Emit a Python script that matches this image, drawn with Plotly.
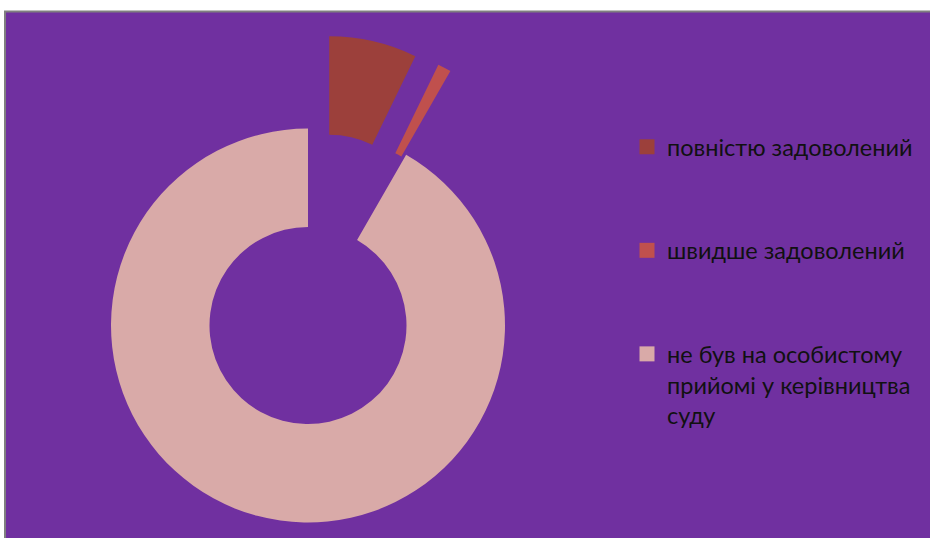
import math
import plotly.graph_objects as go

# ---- data ----
labels = ["повністю задоволений", "швидше задоволений",
          "не був на особистому прийомі у керівництва суду"]
legend_names = ["повністю задоволений", "швидше задоволений",
                "не був на особистому<br>прийомі у керівництва<br>суду"]
values = [7.2, 1.1, 91.7]
colors = ["#9C403B", "#C0504D", "#D9AAA8"]
explode = [0.48, 0.48, 0.0]

# ---- geometry / style (figure pixel coordinates) ----
W, H = 930, 538
cx, cy, r = 308, 325.5, 197
hole = 0.5
bg_purple = "#7030A0"
transparent = "rgba(0,0,0,0)"

fig = go.Figure()

total = sum(values)
cum = 0
for i, v in enumerate(values):
    mid = (cum + v / 2) / total * 2 * math.pi
    cum += v
    d = explode[i] * r
    dx = d * math.sin(mid)
    dy = -d * math.cos(mid)
    dom_x = [(cx + dx - r) / W, (cx + dx + r) / W]
    dom_y = [1 - (cy + dy + r) / H, 1 - (cy + dy - r) / H]
    mc = [transparent] * len(values)
    mc[i] = colors[i]
    fig.add_trace(go.Pie(
        values=values, labels=labels,
        marker=dict(colors=mc, line=dict(width=0)),
        hole=hole, sort=False, direction="clockwise", rotation=0,
        textinfo="none", hoverinfo="skip", showlegend=False,
        domain=dict(x=dom_x, y=dom_y),
    ))

# legend entries
for name, c in zip(legend_names, colors):
    fig.add_trace(go.Scatter(
        x=[None], y=[None], mode="markers",
        marker=dict(symbol="square", size=15, color=c),
        name=name, legendgroup=name, hoverinfo="skip",
    ))

fig.update_xaxes(visible=False)
fig.update_yaxes(visible=False)

fig.update_layout(
    width=W, height=H,
    margin=dict(l=0, r=0, t=0, b=0),
    paper_bgcolor="white",
    plot_bgcolor=transparent,
    shapes=[dict(type="rect", xref="paper", yref="paper",
                 x0=5 / W, x1=1.05, y0=-0.05, y1=1 - 11.5 / H,
                 fillcolor=bg_purple, line=dict(color="#808080", width=2),
                 layer="below")],
    legend=dict(
        x=627 / W, y=1 - 125 / H, xanchor="left", yanchor="top",
        bgcolor=transparent, borderwidth=0,
        font=dict(family="Lato", size=23.5, color="#111111"),
        tracegroupgap=70, valign="top", itemsizing="trace",
    ),
)

fig.write_html(
    "out.html",
    config={"displayModeBar": False, "responsive": False},
    post_script=(
        "document.documentElement.style.overflow='hidden';"
        "document.body.style.margin='0';"
        "document.body.style.overflow='hidden';"
    ),
)
